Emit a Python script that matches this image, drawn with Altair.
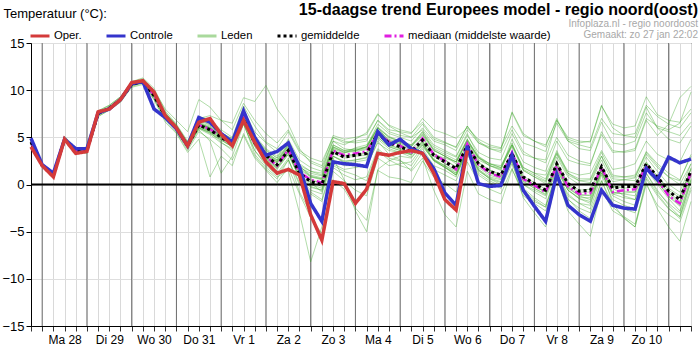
import json
import altair as alt
import pandas as pd

# time axis: hours after zo 27 jan 18:00, 6-hour steps
uren = list(range(0, 355, 6))
dag_labels = ["Ma 28", "Di 29", "Wo 30", "Do 31", "Vr 1", "Za 2", "Zo 3",
              "Ma 4", "Di 5", "Wo 6", "Do 7", "Vr 8", "Za 9", "Zo 10"]
dag_grenzen = list(range(6, 355, 24))

oper = [4.0,2.0,0.8,4.8,3.3,3.5,7.7,8.0,9.0,10.8,11.0,9.8,7.3,6.0,4.1,6.6,7.0,5.3,4.1,6.8,
        4.5,2.4,1.2,1.6,1.0,-3.2,-5.9,0.3,0.1,-2.0,-0.5,3.3,3.1,3.4,3.6,3.3,1.2,-1.6,-2.7,3.6]
controle = [4.9,2.1,1.2,4.8,3.8,3.8,7.6,8.0,9.0,10.7,10.9,8.0,7.1,5.9,4.1,7.1,6.6,5.4,4.5,7.8,
            5.0,3.1,3.5,4.4,1.9,-2.0,-3.9,2.4,2.2,2.1,1.9,5.6,4.2,4.8,3.8,3.3,1.7,-0.9,-2.2,4.1,
            0.1,-0.2,-0.1,3.1,-0.6,-2.3,-3.9,1.1,-2.2,-3.2,-3.9,-0.6,-2.2,-2.5,-2.6,1.7,0.5,2.9,2.3,2.7]
gemiddelde = [4.5,2.0,1.0,4.8,3.6,3.6,7.5,8.1,9.0,10.6,10.9,9.4,7.2,5.9,4.1,6.3,5.8,5.0,4.3,7.0,
              4.4,3.1,2.1,3.6,1.2,0.3,0.0,3.5,2.9,3.1,3.3,5.4,4.4,4.0,3.5,4.7,3.1,2.4,1.7,4.1,
              2.2,1.4,1.0,3.3,0.8,0.1,-0.6,2.2,0.1,-0.7,-0.6,1.9,-0.4,-0.2,-0.2,2.2,0.8,-0.7,-1.6,1.5]
mediaan = [4.5,2.0,1.0,4.8,3.6,3.6,7.5,8.1,9.0,10.6,10.9,9.5,7.2,5.9,4.1,6.3,5.9,5.0,4.3,7.1,
           4.3,3.0,2.0,3.7,1.3,0.5,0.2,3.6,3.1,3.3,3.5,5.5,4.5,4.1,3.4,4.9,3.2,2.5,1.6,4.3,
           2.1,1.2,0.8,3.4,0.6,-0.1,-0.8,2.0,-0.2,-1.0,-0.9,1.8,-0.8,-0.6,-0.5,2.0,0.5,-1.2,-2.0,1.3]

leden = [
    [4.6,2.2,1.2,5.0,3.8,3.9,7.8,8.4,9.3,10.9,11.3,10.2,7.8,6.4,4.6,7.2,6.9,5.8,5.0,8.3,
     6.2,4.5,3.8,5.6,3.4,2.5,2.0,5.2,4.8,5.0,5.3,7.4,6.3,5.8,5.5,6.6,5.0,4.5,3.9,6.2,
     4.6,3.8,3.4,5.8,3.5,2.8,2.3,5.0,3.1,2.5,2.2,5.3,3.4,3.5,3.8,7.0,6.2,5.8,6.5,9.8],
    [4.3,1.8,0.8,4.6,3.4,3.3,7.2,7.9,8.8,10.4,10.7,9.0,6.8,5.5,3.6,5.6,4.8,3.8,2.6,5.2,
     2.8,1.5,0.2,1.8,-1.0,-3.5,-5.2,0.5,-0.5,-2.5,-3.8,1.5,0.8,0.6,0.2,2.5,0.8,0.1,-0.8,2.4,
     0.3,-0.5,-1.0,1.7,-1.2,-2.0,-2.8,0.6,-1.6,-2.5,-3.0,0.4,-2.1,-2.6,-3.0,0.8,-1.0,-2.5,-3.6,-0.3],
    [4.5,2.1,1.1,4.9,3.7,3.7,7.6,8.2,9.1,10.7,11.0,9.8,7.6,6.3,4.4,7.0,7.3,6.8,6.5,9.2,
     8.8,10.5,8.0,6.4,3.8,2.3,1.8,4.6,3.8,3.6,4.0,6.0,5.0,4.5,4.2,5.6,3.6,3.0,2.2,4.8,
     2.8,2.0,1.5,4.2,1.5,0.8,0.3,3.2,1.0,0.4,0.2,3.0,0.6,0.5,0.7,3.5,2.2,1.2,0.5,3.0],
    [4.4,1.9,0.9,4.7,3.5,3.5,7.4,8.0,8.9,10.5,10.8,9.3,7.0,5.8,3.9,6.0,5.5,4.5,3.6,6.5,
     3.2,1.8,0.8,1.5,-3.0,-8.2,-4.5,1.8,1.0,0.5,0.8,3.8,2.8,2.5,2.0,3.8,2.0,1.5,0.8,3.6,
     1.5,0.6,0.2,2.6,0.0,-0.8,-1.5,1.5,-0.6,-1.5,-2.0,1.2,-1.0,-1.4,-1.6,1.6,0.0,-1.5,-2.8,0.6],
    [4.6,2.0,1.0,4.8,3.6,3.7,7.5,8.1,9.0,10.6,10.9,9.5,7.3,6.0,4.2,6.4,6.0,5.2,4.4,7.2,
     4.8,3.2,2.4,3.8,1.4,0.2,-0.8,2.8,0.5,-2.8,-5.0,1.6,2.5,3.0,2.8,4.2,2.5,1.8,1.0,3.8,
     1.6,0.8,0.5,3.0,0.4,-0.4,-1.0,2.0,-0.3,-1.2,-1.6,1.6,-0.8,-1.0,-1.2,2.2,0.6,-0.8,-1.8,1.2],
    [4.5,2.0,1.0,4.8,3.6,3.6,7.5,8.0,9.0,10.6,10.9,9.4,7.2,5.9,4.1,6.3,5.9,5.0,4.2,7.0,
     4.6,3.3,2.5,4.0,1.6,0.8,0.6,4.0,3.4,3.6,4.0,6.4,5.4,5.0,4.6,6.0,4.6,4.2,3.6,5.8,
     4.4,4.0,3.8,7.6,5.2,4.6,4.2,6.8,5.0,4.6,4.5,8.3,6.4,6.0,6.2,9.3,7.4,6.8,6.6,8.0],
    [4.5,2.0,1.0,4.8,3.6,3.6,7.5,8.1,9.0,10.6,10.9,9.6,7.4,6.1,4.3,6.6,6.2,5.3,4.6,7.6,
     5.2,3.8,3.0,4.6,2.2,1.4,1.2,4.6,4.2,4.8,5.5,7.5,6.2,5.5,5.0,5.8,4.2,3.6,3.0,5.4,
     3.0,2.2,1.8,4.4,1.6,1.0,0.4,3.6,1.2,0.6,0.6,3.4,1.0,0.8,0.8,3.2,1.8,0.8,0.0,2.2],
    [4.4,2.0,1.0,4.8,3.6,3.5,7.5,8.1,9.0,10.6,10.8,9.2,7.0,5.8,4.0,6.1,5.6,4.8,4.0,6.8,
     4.2,2.8,1.8,3.4,0.9,0.0,-0.4,3.0,2.4,2.6,2.8,5.0,4.0,3.6,3.2,4.4,2.6,1.8,1.0,3.4,
     1.2,0.4,-0.2,2.6,-0.4,-1.4,-2.2,1.2,-1.5,-2.8,-3.6,0.4,-2.4,-3.4,-4.2,0.2,-2.6,-4.5,-6.0,-1.8],
    [4.6,2.1,1.1,4.9,3.7,3.7,7.6,8.1,9.1,10.6,11.0,9.5,7.2,5.9,4.1,6.2,5.7,4.9,4.2,7.0,
     4.3,2.9,1.9,3.5,1.0,0.2,-0.2,3.3,2.8,3.0,3.1,5.2,4.1,3.8,3.2,4.5,2.6,1.9,1.0,3.9,
     1.6,0.6,0.0,2.4,-1.4,-3.0,-4.5,0.8,-2.8,-4.2,-5.5,-0.4,-2.8,-3.5,-4.5,0.6,-1.2,-2.6,-3.4,0.4],
    [4.5,2.0,1.0,4.8,3.7,3.7,7.6,8.2,9.1,10.7,11.0,9.7,7.5,6.2,4.3,6.5,6.0,5.2,4.5,7.2,
     4.6,3.4,2.6,4.2,1.8,1.2,0.9,4.0,3.5,3.6,3.8,6.0,5.0,4.6,4.1,5.4,3.8,3.2,2.6,4.8,
     2.9,2.2,1.8,4.2,1.8,1.2,0.6,3.3,1.2,0.4,0.5,3.0,0.8,0.8,1.0,3.4,2.0,0.8,0.4,3.2],
    [4.5,2.0,0.9,4.7,3.5,3.5,7.4,8.0,8.9,10.5,10.8,9.3,7.1,5.8,4.0,6.0,5.5,4.7,4.0,6.7,
     4.1,2.7,1.6,3.2,0.8,-0.2,-0.6,3.0,2.3,2.4,2.6,4.8,3.8,3.4,2.9,4.2,2.5,1.8,1.2,3.6,
     1.4,0.7,0.3,2.6,0.0,-0.6,-1.2,1.6,-0.6,-1.4,-1.4,1.2,-1.0,-0.9,-0.8,1.8,0.2,-1.2,-2.2,1.0],
    [4.4,1.9,0.9,4.6,3.4,3.4,7.2,7.9,8.7,10.3,10.6,9.0,6.6,5.4,3.4,4.8,0.8,3.0,2.0,5.4,
     3.0,1.6,0.6,2.6,0.0,-1.0,-1.8,2.0,1.4,1.0,0.4,3.6,2.6,2.0,1.6,3.4,1.6,1.0,0.4,3.2,
     1.0,0.2,-0.4,2.2,-0.6,-1.6,-2.4,1.2,-1.0,-2.0,-2.6,1.0,-1.6,-2.2,-2.6,1.2,-0.6,-2.2,-3.4,0.2],
    [4.7,2.2,1.2,5.1,3.9,3.9,7.8,8.4,9.3,10.9,11.2,10.0,8.0,6.8,5.6,9.0,8.2,6.8,5.8,8.6,
     6.8,5.4,4.4,5.8,3.6,2.8,2.4,5.0,4.4,4.6,4.8,6.8,5.8,5.6,5.4,7.0,5.8,5.4,4.9,6.0,
     4.8,4.2,3.9,6.2,4.4,4.0,3.5,6.5,4.6,4.2,3.9,7.0,5.4,5.2,5.4,8.4,7.2,6.4,6.0,7.6],
    [4.5,2.0,1.0,4.8,3.6,3.6,7.5,8.1,9.0,10.6,10.9,9.4,7.2,5.9,4.0,6.2,5.6,4.9,4.2,6.9,
     4.2,2.8,1.8,3.4,0.6,-0.6,-1.0,2.6,2.0,2.0,1.8,4.6,3.2,2.6,1.4,2.8,-0.6,-3.2,-4.5,1.4,
     -1.0,-1.6,-2.0,1.6,-0.8,-1.8,-2.4,1.0,-1.2,-2.0,-2.2,1.6,-0.4,-1.2,-1.6,1.8,0.4,-1.0,-2.0,1.8],
    [4.5,2.0,1.0,4.8,3.6,3.6,7.5,8.1,9.0,10.6,10.9,9.5,7.3,6.0,4.1,6.3,5.8,5.0,4.3,7.0,
     4.5,3.1,2.2,3.8,1.2,0.4,0.2,3.6,3.0,3.1,3.3,5.3,4.2,3.8,3.4,4.6,3.0,2.2,1.5,4.0,
     2.0,1.2,0.9,3.2,0.6,-0.2,-0.8,2.2,-0.2,-1.0,-1.2,1.6,-2.0,-3.6,-4.5,0.0,-2.2,-3.2,-4.0,-0.6],
    [4.6,2.1,1.1,4.9,3.7,3.7,7.6,8.2,9.1,10.7,11.0,9.8,7.6,6.3,4.4,6.8,6.4,5.4,4.6,7.4,
     5.0,3.6,2.8,4.8,2.6,1.8,1.4,5.0,4.6,4.4,4.6,6.8,5.6,5.2,5.0,6.4,4.8,4.4,4.0,6.2,
     4.4,3.8,3.6,7.7,5.4,4.6,4.0,7.0,4.6,3.8,3.6,6.6,4.4,4.2,4.6,7.6,6.0,5.6,5.2,6.6],
    [4.4,1.9,0.9,4.7,3.5,3.5,7.4,8.0,8.9,10.5,10.8,9.2,7.0,5.8,3.8,5.8,4.6,1.2,3.0,6.4,
     3.6,2.2,1.2,2.8,-0.8,-3.0,-6.0,1.4,0.4,-0.6,-1.2,2.8,2.0,2.2,2.4,4.0,2.6,2.0,1.4,4.0,
     2.0,1.2,0.8,3.2,0.6,-0.2,-0.8,2.4,0.0,-0.8,-0.8,2.0,-0.2,-0.4,-0.2,2.4,0.8,-0.4,-1.2,1.6],
    [4.5,2.0,1.0,4.8,3.6,3.6,7.5,8.1,9.0,10.6,10.9,9.6,7.4,6.0,4.2,6.4,6.0,5.1,4.4,7.1,
     4.8,3.4,2.6,4.2,2.0,1.4,1.0,4.2,3.6,3.8,4.0,5.8,4.8,4.4,4.0,5.2,3.6,3.0,2.4,4.6,
     2.6,2.0,1.6,4.8,2.4,1.8,1.4,4.6,2.6,2.2,2.0,5.6,3.6,3.4,3.6,6.8,5.2,6.4,9.2,10.4],
    [4.6,2.1,1.1,4.9,3.7,3.8,7.7,8.3,9.2,10.8,11.1,9.8,7.6,6.2,4.5,6.8,6.3,5.5,4.8,7.6,
     5.0,3.7,2.8,4.3,1.9,1.0,0.7,4.2,3.6,3.7,3.9,6.1,5.1,4.6,4.2,5.3,3.7,3.0,2.4,4.7,
     2.9,2.0,1.7,4.0,1.5,0.8,0.1,2.9,0.8,0.0,0.1,2.6,0.3,0.5,0.4,2.9,1.4,0.0,-0.8,2.2],
    [4.4,1.9,0.9,4.7,3.5,3.5,7.4,8.0,8.9,10.5,10.8,9.2,7.0,5.7,3.9,6.0,5.4,4.7,4.0,6.6,
     4.0,2.6,1.7,3.2,0.7,-0.3,-0.6,3.0,2.5,2.6,2.9,5.0,4.0,3.6,3.1,4.3,2.7,2.0,1.2,3.7,
     1.8,1.0,0.6,2.9,0.3,-0.4,-1.1,1.8,-0.4,-1.2,-1.1,1.5,-0.9,-0.7,-0.8,1.7,0.3,-1.3,-2.3,0.9],
    [4.5,2.0,1.0,4.8,3.6,3.6,7.5,8.1,9.0,10.6,10.9,9.4,7.1,5.9,4.2,6.5,6.1,5.4,4.9,7.8,
     5.6,4.4,3.4,4.4,2.0,0.8,0.5,3.8,3.3,3.9,4.2,6.0,4.6,4.2,3.8,5.0,3.3,2.6,1.9,4.4,
     2.4,1.5,1.0,3.4,0.7,0.0,-0.8,2.0,-0.6,-1.5,-1.8,1.4,-1.2,-1.8,-2.2,1.2,-0.8,-2.0,-3.0,0.5],
    [4.5,2.0,1.0,4.8,3.6,3.6,7.5,8.1,9.0,10.6,10.9,9.3,7.0,5.8,3.9,5.9,5.3,4.4,3.8,6.4,
     3.6,2.0,1.0,2.6,0.2,-0.8,-1.6,2.2,1.6,1.8,2.0,4.4,3.6,3.4,3.2,4.6,3.2,2.8,2.4,4.6,
     2.8,2.2,2.0,4.2,1.8,1.2,1.0,3.4,1.4,1.0,1.2,3.6,1.6,1.8,2.2,4.6,3.2,2.6,2.4,4.8],
    [4.5,2.0,1.0,4.8,3.6,3.6,7.5,8.1,9.0,10.6,10.9,9.5,7.3,6.0,4.2,6.4,5.9,5.1,4.4,7.1,
     4.5,3.2,2.3,3.9,1.4,0.5,0.2,3.7,3.1,3.2,3.4,5.6,4.6,4.2,3.6,4.9,3.3,2.6,1.8,4.3,
     2.3,1.5,1.1,3.5,0.9,0.2,-0.5,2.3,0.2,-0.6,-0.5,2.0,-0.3,-0.1,-0.1,2.3,0.9,-0.6,-1.4,1.7],
    [4.6,2.1,1.1,4.9,3.7,3.7,7.6,8.2,9.1,10.7,11.0,9.6,7.4,6.1,4.3,6.5,6.0,5.2,4.5,7.3,
     4.7,3.3,2.4,4.1,1.7,0.9,0.6,3.9,3.4,3.5,3.7,5.7,4.7,4.3,4.0,5.6,4.0,3.4,2.9,5.2,
     3.4,2.8,2.6,5.4,3.2,2.8,2.6,6.8,4.8,4.4,4.6,8.4,6.0,5.2,5.0,8.2,6.0,4.8,4.4,6.2],
]

reeksen = ["Oper.", "Controle", "Leden", "gemiddelde", "mediaan (middelste waarde)"]
kleuren = ["#d43a3a", "#3434cc", "#a9d99c", "#000000", "#e01ee0"]
strepen = [[1, 0], [1, 0], [1, 0], [3, 3], [7, 3, 2, 3]]
leden_kleur = "#3da828"

for m in leden:
    assert len(m) == 60, len(m)

rows = []
def add(naam, vals, lid):
    for u, v in zip(uren, vals):
        rows.append({"uur": u, "temp": v, "reeks": naam, "lid": lid})

for k, m in enumerate(leden):
    add("Leden", m, f"lid{k}")
add("gemiddelde", gemiddelde, "gem")
add("mediaan (middelste waarde)", mediaan, "med")
add("Controle", controle, "ctl")
add("Oper.", oper, "op")
df = pd.DataFrame(rows)

FONT = "Liberation Sans"
label_expr = ("((datum.value - 18) % 24 == 0 && datum.value >= 18 && datum.value <= 330) ? "
              + json.dumps(dag_labels) + "[(datum.value - 18) / 24] : ''")

X = alt.X("uur:Q", scale=alt.Scale(domain=[0, 354], nice=False, zero=False),
          axis=alt.Axis(values=uren, labelExpr=label_expr, labelOverlap=False, grid=True,
                        gridColor="#d9d9d9", tickColor="#333", tickSize=5, domainColor="black",
                        labelFont=FONT, labelFontSize=12, labelColor="black", labelPadding=3,
                        labelFlush=False, title=None))
Y = alt.Y("temp:Q", scale=alt.Scale(domain=[-15, 15], nice=False, zero=False),
          axis=alt.Axis(values=[-15, -10, -5, 0, 5, 10, 15], grid=True, gridColor="#dedede",
                        tickColor="black", tickSize=5, domainColor="black",
                        labelFont=FONT, labelFontSize=13, labelColor="black", labelPadding=2,
                        title="Temperatuur (°C):", titleAngle=0, titleAlign="left",
                        titleBaseline="middle", titleX=-28, titleY=-30, titleFont=FONT,
                        titleFontSize=13, titleFontWeight="normal", titleColor="black"))

leg = alt.Legend(orient="none", legendX=-2, legendY=-18, direction="horizontal", title=None,
                 labelFont=FONT, labelFontSize=11.3, labelColor="black", symbolType="stroke",
                 symbolSize=361, symbolStrokeWidth=3, columnPadding=18, labelOffset=3,
                 labelLimit=400, padding=0)
C = alt.Color("reeks:N", scale=alt.Scale(domain=reeksen, range=kleuren), legend=leg)
D = alt.StrokeDash("reeks:N", scale=alt.Scale(domain=reeksen, range=strepen), legend=leg)

base = alt.Chart(df)

dagen = alt.Chart(pd.DataFrame({"uur": dag_grenzen})).mark_rule(
    color="#6e6e6e", strokeWidth=1).encode(x=X)
nul = alt.Chart(pd.DataFrame({"temp": [0]})).mark_rule(
    color="black", strokeWidth=2).encode(y=Y)

lijn_leden = base.transform_filter(alt.datum.reeks == "Leden").mark_line(
    strokeWidth=1, opacity=0.4, color=leden_kleur).encode(x=X, y=Y, detail="lid:N")
lijn_med = base.transform_filter(alt.datum.reeks == "mediaan (middelste waarde)").mark_line(
    strokeWidth=2.5).encode(x=X, y=Y, color=C, strokeDash=D)
lijn_gem = base.transform_filter(alt.datum.reeks == "gemiddelde").mark_line(
    strokeWidth=3).encode(x=X, y=Y, color=C, strokeDash=D)
lijn_ctl = base.transform_filter(alt.datum.reeks == "Controle").mark_line(
    strokeWidth=3.5).encode(x=X, y=Y, color=C, strokeDash=D)
lijn_op = base.transform_filter(alt.datum.reeks == "Oper.").mark_line(
    strokeWidth=3.5).encode(x=X, y=Y, color=C, strokeDash=D)

chart = alt.layer(dagen, lijn_leden, nul, lijn_med, lijn_gem, lijn_ctl, lijn_op).properties(
    width=660, height=283,
    autosize=alt.AutoSizeParams(type="none"),
    padding={"left": 31, "top": 43, "right": 8, "bottom": 22},
    title=alt.TitleParams(
        text="15-daagse trend Europees model - regio noord(oost)",
        subtitle=["Infoplaza.nl - regio noordoost", "Gemaakt: zo 27 jan 22:02"],
        anchor="end", font=FONT, fontSize=16, fontWeight="bold", color="black",
        subtitleFont=FONT, subtitleFontSize=10, subtitleColor="#a8a8a8",
        subtitlePadding=1, subtitleLineHeight=11, offset=-33),
).configure_view(stroke="black", strokeWidth=1)

chart.save("out.html", embed_options={"renderer": "svg", "actions": False})
